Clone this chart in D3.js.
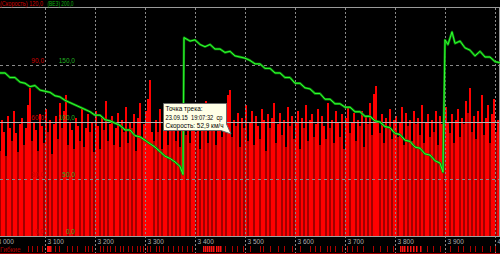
<!DOCTYPE html>
<html><head><meta charset="utf-8">
<script src="https://cdn.jsdelivr.net/npm/d3@7"></script>
<style>
html,body{margin:0;padding:0;background:#000;overflow:hidden}
svg{display:block}
text{font-family:"Liberation Sans",Arial,sans-serif}
</style></head>
<body>
<script>
// ---------- data ----------
const xTicks = [3000,3100,3200,3300,3400,3500,3600,3700,3800,3900,4000];
const speedTicks = [90,60,30,0];
const vezTicks = [150,100,50,0];

// speed samples every 4 units starting at 3000 (km/h)
const speedStart = 3000, speedStep = 4;
const speedValues = [
52,58,45,61,55,42,63,57,50,66,54,44,59,62,48,57,69,78,50,60,
56,45,64,58,49,67,55,61,43,59,63,51,70,57,66,74,48,60,56,46,
62,58,50,68,47,57,64,55,60,44,66,58,46,62,56,71,50,59,63,48,
57,65,47,61,55,68,49,60,57,64,45,62,70,52,59,66,72,82,55,50,
61,55,67,46,63,58,48,69,57,61,50,65,47,60,66,53,62,49,59,67,
55,60,46,64,58,71,49,62,57,66,48,59,63,52,68,60,74,77,52,61,
58,65,47,62,57,69,50,60,66,48,63,58,51,67,61,45,64,57,62,70,
49,59,65,53,61,47,68,58,63,51,60,66,46,62,57,69,50,61,64,52,
59,67,48,63,58,51,70,57,61,49,66,60,52,64,46,62,68,54,60,65,
50,61,58,66,47,63,59,70,53,75,79,60,54,64,49,62,58,67,51,61,
63,52,60,68,48,65,58,61,50,66,59,62,53,69,49,60,64,52,61,55,
66,48,63,59,51,68,60,54,64,49,61,67,52,62,59,71,65,78,55,63,
51,66,60,74,53,62,69,49,64,72,55,61,67
];

// ВЕЗ track: distance / value
const vezDist = [
3000,3010,3020,3030,3040,3050,3060,3070,3080,3090,3100,3110,3120,3130,3140,3150,3160,3170,3180,3190,
3200,3210,3220,3230,3240,3250,3260,3270,3280,3290,3300,3310,3320,3330,3340,3350,3360,3370,3376,
3378,3390,3400,3410,3420,3430,3440,3450,3460,3470,3480,3490,3500,3510,3520,3530,3540,3550,3560,3570,
3580,3590,3600,3610,3620,3630,3640,3650,3660,3670,3680,3690,3700,3710,3720,3730,3740,3750,3760,3770,
3780,3790,3800,3810,3820,3830,3840,3850,3860,3870,3880,3890,3896,
3900,3906,3914,3920,3930,3940,3950,3960,3970,3980,3990,4000,4010
];
const vezValues = [
146,143,143,139,139,135,134,131,132,128,127,126,123,122,119,117,115,113,111,109,
106,106,102,101,99,97,93,93,88,87,84,81,78,74,70,68,65,61,54,
174,171,172,168,166,168,164,164,161,162,158,157,156,154,151,151,147,147,143,143,
139,139,134,134,130,129,125,125,120,120,116,116,113,113,109,109,105,105,101,100,
96,95,90,89,84,83,78,77,72,71,66,64,56,
172,168,179,169,171,165,163,158,162,157,157,153,152
];

// event marks in the lower strip
const eventMarks = [3066,3074,3084,3094,3120,3128,3144,3154,3164,3180,3186,3194,3210,3216,3224,3230,3240,3250,3256,3266,
3274,3284,3290,3296,3304,3310,3322,3328,3336,3346,3356,3366,3374,3384,3394,3460,3474,3484,3496,3510,3530,3536,3550,
3566,3578,3594,3610,3630,3640,3650,3664,3670,3680,3694,3704,3714,3724,3736,3756,3770,3784,3796,3864,3876,3890,
3910,3926,3936,3950,3960,3974,3990,4000];
const eventMarksBright = [3104,3106,3108,3110,3416,3420,3424,3428,3432,3436,3442,3446,3450,3810,3814,3818,3824,3830,3836,3842,3850];

const tooltipLines = ["Точка трека:", "23.09.15  19:07:32  ср", "Скорость: 52,9 км/ч"];
const tooltipWidths = [37, 57, 58];

// ---------- drawing ----------
const W = 500, H = 254;
const svg = d3.select("body").append("svg").attr("width", W).attr("height", H);
svg.append("rect").attr("width", W).attr("height", H).attr("fill", "#000");

const plotTop = 8, plotBottom = 236;
const x = d3.scaleLinear().domain([3000, 4010]).range([-5, 500]);
const ySpeed = d3.scaleLinear().domain([0, 120]).range([plotBottom, plotTop]);
const yVez = d3.scaleLinear().domain([0, 200]).range([plotBottom, plotTop]);
const fmt = v => d3.format(".1f")(v).replace(".", ",");

// speed bars
const speedData = speedValues.map((v, i) => ({d: speedStart + i * speedStep, v, i}));
const bw = x(speedStep) - x(0);
svg.append("g").attr("shape-rendering", "crispEdges").selectAll("rect").data(speedData).join("rect")
  .attr("x", d => x(d.d))
  .attr("y", d => ySpeed(d.v))
  .attr("width", bw)
  .attr("height", d => plotBottom - ySpeed(d.v))
  .attr("fill", d => {
    const p = speedValues[d.i - 1], n = speedValues[d.i + 1];
    return (p !== undefined && n !== undefined && d.v < p && d.v < n) ? "#a00000" : "#ff0000";
  });

// vertical grid
svg.append("g").selectAll("line").data(xTicks).join("line")
  .attr("x1", d => x(d) + 0.5).attr("x2", d => x(d) + 0.5)
  .attr("y1", plotTop).attr("y2", 253)
  .attr("stroke", "#8a8a8a").attr("stroke-width", 1).attr("stroke-dasharray", "2,2");

// horizontal grid
svg.append("g").selectAll("line").data(speedTicks.filter(t => t > 0)).join("line")
  .attr("x1", 0).attr("x2", W)
  .attr("y1", d => Math.round(ySpeed(d)) + 0.5).attr("y2", d => Math.round(ySpeed(d)) + 0.5)
  .attr("stroke", d => d === 60 ? "#b4b4b4" : "#8a8a8a")
  .attr("stroke-dasharray", d => d === 60 ? null : "3,3");

// top border
svg.append("line").attr("x1", 0).attr("x2", W).attr("y1", 7.5).attr("y2", 7.5)
  .attr("stroke", "#9a9a9a");
// right border
svg.append("line").attr("x1", 499.5).attr("x2", 499.5).attr("y1", plotTop).attr("y2", plotBottom)
  .attr("stroke", "#9a9a9a");

// axis band
svg.append("rect").attr("x", 0).attr("y", plotBottom).attr("width", W).attr("height", 18).attr("fill", "#000");
svg.append("g").selectAll("line").data(xTicks).join("line")
  .attr("x1", d => x(d) + 0.5).attr("x2", d => x(d) + 0.5)
  .attr("y1", plotBottom).attr("y2", 253)
  .attr("stroke", "#8a8a8a").attr("stroke-dasharray", "2,2");
svg.append("line").attr("x1", 0).attr("x2", W).attr("y1", plotBottom + 0.5).attr("y2", plotBottom + 0.5)
  .attr("stroke", "#a0a0a0");

const xAxis = d3.axisBottom(x).tickValues(xTicks).tickSize(0)
  .tickFormat(d => d3.format(",")(d).replace(",", " "));
const ax = svg.append("g").attr("transform", `translate(0,${plotBottom})`).call(xAxis);
ax.select(".domain").remove();
ax.selectAll("text").attr("text-anchor", "start").attr("dx", 2).attr("y", 3).attr("dy", "0.71em")
  .attr("fill", "#b0b0b0").style("font-size", "6.5px").style("font-family", '"Liberation Sans",Arial,sans-serif');

// event strip
svg.append("g").selectAll("rect").data(eventMarks).join("rect")
  .attr("x", d => x(d)).attr("y", 246).attr("width", 1).attr("height", 6).attr("fill", "#b00000");
svg.append("g").selectAll("rect").data(eventMarksBright).join("rect")
  .attr("x", d => x(d)).attr("y", 246).attr("width", 1.5).attr("height", 6).attr("fill", "#ff1010");
svg.append("line").attr("x1", 0).attr("x2", W).attr("y1", 253.5).attr("y2", 253.5).attr("stroke", "#a00000");
svg.append("text").attr("x", 0).attr("y", 251.5).attr("fill", "#b00000")
  .style("font-size", "6.5px").text("Гибкие");

// y labels
svg.append("g").selectAll("text").data(speedTicks).join("text")
  .attr("x", 44).attr("y", d => ySpeed(d) - 2).attr("text-anchor", "end")
  .attr("fill", "#d00000").style("font-size", "6.5px").text(d => fmt(d));
svg.append("g").selectAll("text").data(vezTicks).join("text")
  .attr("x", 75).attr("y", d => yVez(d) - 2).attr("text-anchor", "end")
  .attr("fill", "#20b020").style("font-size", "6.5px").text(d => fmt(d));

// header
svg.append("text").attr("x", 0).attr("y", 6).attr("fill", "#d00000")
  .attr("textLength", 43).attr("lengthAdjust", "spacingAndGlyphs")
  .style("font-size", "6.3px").text("(Скорость) " + fmt(120));
svg.append("text").attr("x", 47.5).attr("y", 6).attr("fill", "#10b010")
  .attr("textLength", 26).attr("lengthAdjust", "spacingAndGlyphs")
  .style("font-size", "6.3px").text("(ВЕЗ) " + fmt(200));

// green line
const vezData = vezDist.map((d, i) => ({d, v: vezValues[i]}));
const line = d3.line().x(d => x(d.d)).y(d => yVez(d.v));
svg.append("path").datum(vezData).attr("d", line)
  .attr("fill", "none").attr("stroke", "#0c8c0c").attr("stroke-width", 2.4).attr("stroke-linejoin", "round");
svg.append("path").datum(vezData).attr("d", line)
  .attr("fill", "none").attr("stroke", "#30ff30").attr("stroke-width", 1).attr("stroke-linejoin", "round");

// tooltip
const tt = svg.append("g");
tt.append("path")
  .attr("d", "M163.5,103.5 H226.5 V124 L231,134 L221,130.5 H163.5 Z")
  .attr("fill", "#ffffe6").attr("stroke", "#6a6a6a").attr("stroke-width", 1);
tt.selectAll("text").data(tooltipLines).join("text")
  .attr("x", 165.5).attr("y", (d, i) => 111 + i * 8.7)
  .attr("xml:space", "preserve")
  .attr("textLength", (d, i) => tooltipWidths[i]).attr("lengthAdjust", "spacingAndGlyphs")
  .attr("fill", "#000").style("font-size", "6.5px").style("white-space", "pre").text(d => d);
</script>
</body></html>
